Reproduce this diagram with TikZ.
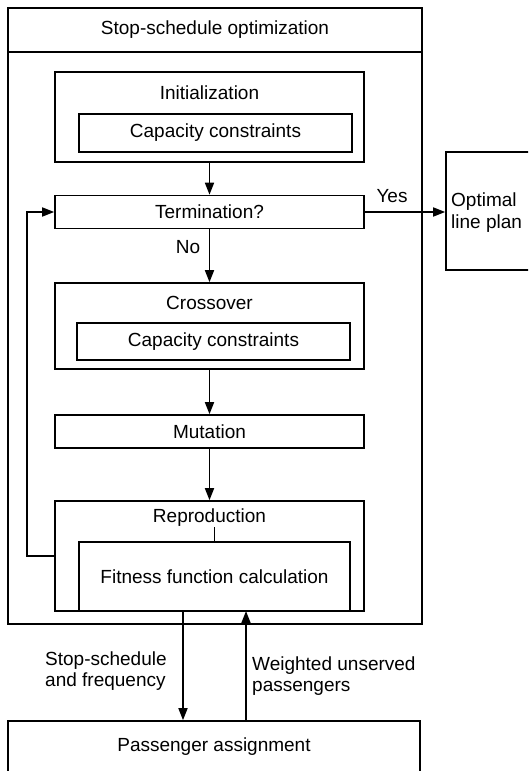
\documentclass[tikz,border=0pt]{standalone}
\usepackage{fontspec}
\setmainfont{Liberation Sans}
\usetikzlibrary{arrows.meta}
\begin{document}
\begin{tikzpicture}[x=1pt,y=-1pt,
  box/.style={draw,line width=1.6pt,rectangle,inner sep=0pt},
  txt/.style={inner sep=0pt,font=\fontsize{19}{21.5}\selectfont},
  arr/.style={line width=1.6pt,-{Triangle[length=12pt,width=9pt]}},
  ln/.style={line width=1.6pt}]
\useasboundingbox (0,0) rectangle (528,771);
\clip (0,0) rectangle (528,771);
\fill[white] (0,0) rectangle (528,771);
% outer
\node[box,minimum width=414pt,minimum height=616pt] (outer) at (215,316) {};
\coordinate (sep) at (0,52);
\draw[ln] (outer.west |- sep) -- (outer.east |- sep);
\node[txt] (title) at (215,30) {Stop-schedule optimization};
% initialization
\node[box,minimum width=309pt,minimum height=90pt] (init) at (209.5,117) {};
\node[txt] (inittxt) at (209.5,93) {Initialization};
\node[box,minimum width=273pt,minimum height=38pt] (cc1) at (215.5,133) {};
\node[txt] (cc1txt) at (215.5,133) {Capacity constraints};
% termination
\node[box,minimum width=309pt,minimum height=33pt] (term) at (209.5,212) {};
\node[txt] (termtxt) at (209.5,212) {Termination?};
% crossover
\node[box,minimum width=309pt,minimum height=86pt] (cross) at (209.5,326) {};
\node[txt] (crosstxt) at (209.5,303) {Crossover};
\node[box,minimum width=273pt,minimum height=37pt] (cc2) at (213.5,341.5) {};
\node[txt] (cc2txt) at (213.5,341.5) {Capacity constraints};
% mutation
\node[box,minimum width=309pt,minimum height=33pt] (mut) at (209.5,431.5) {};
\node[txt] (muttxt) at (209.5,431.5) {Mutation};
% reproduction
\node[box,minimum width=309pt,minimum height=110pt] (repro) at (209.5,556) {};
\node[txt] (reprotxt) at (209.5,518) {Reproduction};
\node[box,minimum width=271pt,minimum height=69pt] (fit) at (214.5,576.5) {};
\node[txt] (fittxt) at (214.5,577) {Fitness function calculation};
% optimal line plan
\node[box,minimum width=100pt,minimum height=118pt] (opt) at (496,211) {};
\node[txt,anchor=west,align=left] (opttxt) at (451,212.5) {Optimal\\line plan};
% passenger assignment
\node[box,minimum width=412pt,minimum height=60pt] (pass) at (214,751) {};
\node[txt] (passtxt) at (214,747) {Passenger assignment};
% arrows
\draw[arr] (init.south) -- (term.north);
\draw[arr] (term.south) -- (cross.north);
\node[txt] (no) at (188,247) {No};
\draw[arr] (cross.south) -- (mut.north);
\draw[arr] (mut.south) -- (repro.north);
\draw[arr] (repro.west) -- (27,556) -- (27,212) -- (term.west);
\draw[arr] (term.east) -- (term.east -| opt.west);
\node[txt] (yes) at (392,196) {Yes};
\draw[ln] (fit.north) -- (fit.north |- reprotxt.south);
\coordinate (dn) at (183,611);
\coordinate (up) at (246,611);
\draw[arr] (dn) -- (dn |- pass.north);
\draw[arr] (up |- pass.north) -- (up);
\node[txt,anchor=west,align=left] (lab1) at (45,671) {Stop-schedule\\and frequency};
\node[txt,anchor=west,align=left] (lab2) at (252,676) {Weighted unserved\\passengers};
\end{tikzpicture}
\end{document}
